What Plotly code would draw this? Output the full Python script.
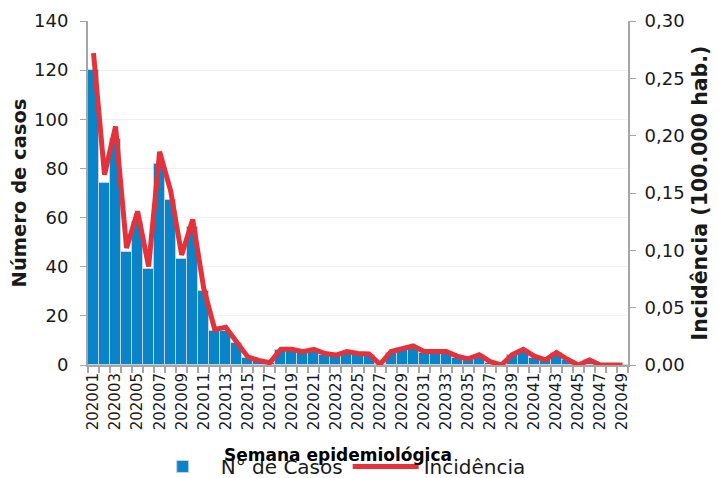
import plotly.graph_objects as go

semanas = [f"2020{i:02d}" for i in range(1, 50)]
casos = [120, 74, 92, 46, 58, 39, 82, 67, 43, 56,
         30, 14, 14, 9, 3, 2, 1, 6, 6, 5,
         6, 4, 4, 5, 4, 4, 0, 5, 6, 7,
         5, 5, 5, 3, 2, 4, 1, 0, 4, 6,
         3, 2, 5, 2, 0, 2, 0, 0, 0]
incidencia = [0.272, 0.166, 0.208, 0.102, 0.134, 0.086, 0.186, 0.152, 0.096, 0.127,
              0.067, 0.031, 0.033, 0.020, 0.007, 0.004, 0.002, 0.0137, 0.0137, 0.0117,
              0.0137, 0.010, 0.0087, 0.0117, 0.010, 0.0097, 0.0005, 0.0117, 0.014, 0.0166,
              0.0117, 0.0117, 0.0117, 0.0077, 0.0053, 0.009, 0.0029, 0.0, 0.009, 0.0137,
              0.0077, 0.0044, 0.011, 0.005, 0.0, 0.0044, 0.0, 0.0, 0.0]

x_pos = list(range(1, len(semanas) + 1))
tick_pos = x_pos[::2]
tick_txt = semanas[::2]

FONT = "DejaVu Sans"
TXT = "#1a1a1a"
AX = "#a6a6a6"

fig = go.Figure()
fig.add_trace(go.Bar(
    x=x_pos, y=casos, name="N° de Casos",
    marker=dict(color="#0A84C8", line=dict(color="#c4d2de", width=1)),
    yaxis="y",
))
fig.add_trace(go.Scatter(
    x=x_pos, y=incidencia, name="Incidência", mode="lines",
    line=dict(color="#E4313A", width=5),
    yaxis="y2",
))

# page body has an 8px margin: figure is 711x470 so plot area lands at x 88-628, y 21-365
fig.update_layout(
    width=711, height=470,
    margin=dict(l=80, r=91, t=13, b=113, autoexpand=False),
    paper_bgcolor="white", plot_bgcolor="white",
    separators=",.",
    bargap=0,
    font=dict(family=FONT, color=TXT),
    showlegend=True,
    legend=dict(orientation="h", x=0.105, xanchor="left", y=-0.295, yanchor="middle",
                font=dict(size=20, color=TXT), bgcolor="rgba(0,0,0,0)",
                itemwidth=66, traceorder="normal"),
    xaxis=dict(
        range=[0.5, len(semanas) + 0.5], automargin=False,
        tickmode="array", tickvals=tick_pos, ticktext=tick_txt,
        tickangle=-90, tickfont=dict(size=15, color=TXT),
        ticks="", showgrid=False, zeroline=False,
        showline=True, linecolor=AX, linewidth=2,
        minor=dict(tickmode="linear", tick0=0.5, dtick=1, ticks="outside",
                   ticklen=6, tickcolor=AX, tickwidth=1.5, showgrid=False),
    ),
    yaxis=dict(
        range=[0, 140], dtick=20, tickfont=dict(size=18, color=TXT), automargin=False,
        showgrid=True, gridcolor="#f1f1f1", gridwidth=1, zeroline=False,
        showline=True, linecolor=AX, linewidth=2,
        ticks="outside", ticklen=6, tickcolor=AX, ticklabelstandoff=8,
        title=dict(text="<b>Número de casos</b>", font=dict(size=19.5, color=TXT), standoff=6),
    ),
    yaxis2=dict(
        range=[0, 0.30], dtick=0.05, tickformat=".2f", overlaying="y", side="right",
        tickfont=dict(size=18, color=TXT), showgrid=False, zeroline=False, automargin=False,
        showline=True, linecolor=AX, linewidth=2,
        ticks="outside", ticklen=6, tickcolor=AX, ticklabelstandoff=5,
        title=dict(text="<b>Incidência (100.000 hab.)</b>", font=dict(size=20.5, color=TXT), standoff=9),
    ),
    annotations=[dict(text="<b>Semana epidemiológica</b>", xref="paper", yref="paper",
                      x=0.463, y=-0.262, xanchor="center", yanchor="middle",
                      showarrow=False, font=dict(size=17, color="#000000"))],
)

fig.write_html("out.html")
